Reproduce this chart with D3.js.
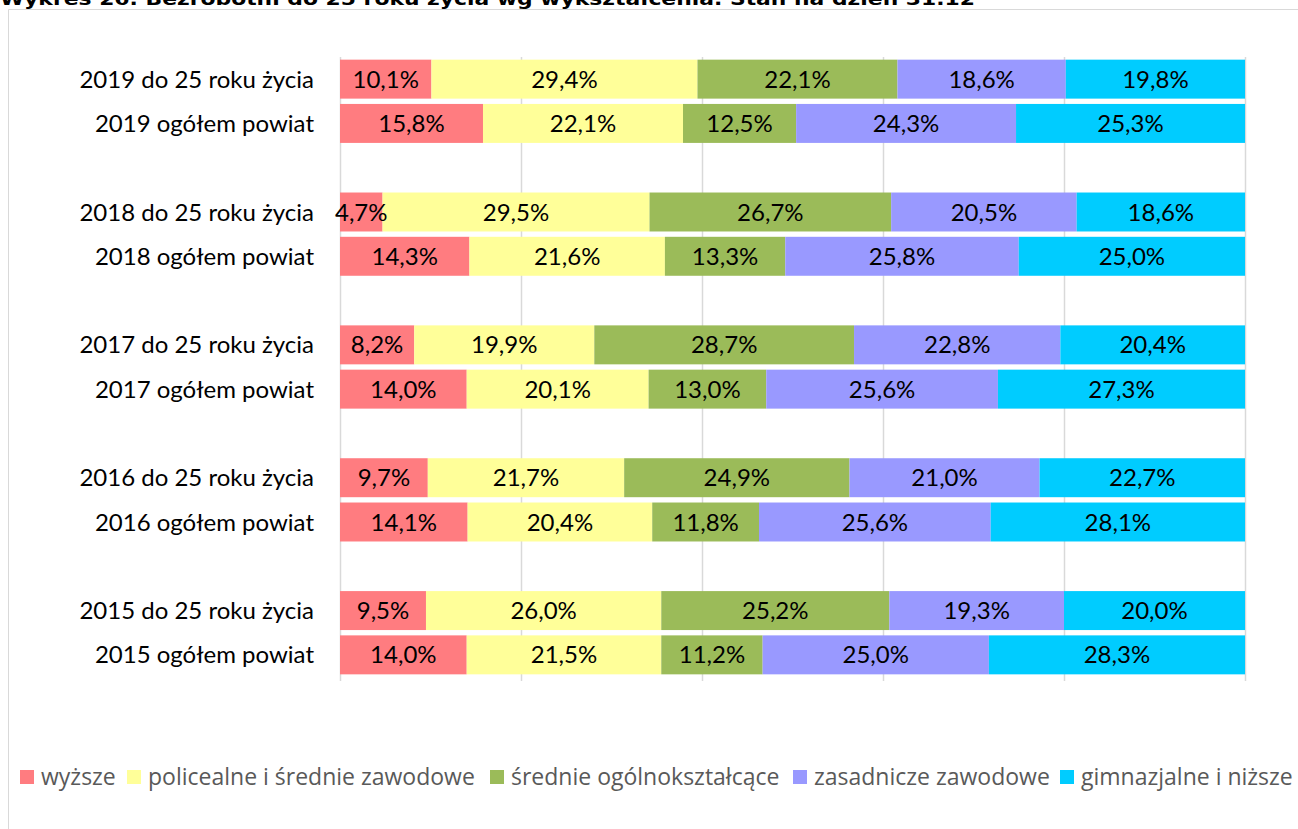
<!DOCTYPE html>
<html><head><meta charset="utf-8">
<script src="https://cdn.jsdelivr.net/npm/d3@7"></script>
<style>html,body{margin:0;padding:0;background:#fff;overflow:hidden}</style>
</head><body>
<svg id="c" width="1298" height="829"></svg>
<script>
const title = "Wykres 26. Bezrobotni do 25 roku życia wg wykształcenia. Stan na dzień 31.12";
const categories = ["2019 do 25 roku życia","2019 ogółem powiat","2018 do 25 roku życia","2018 ogółem powiat","2017 do 25 roku życia","2017 ogółem powiat","2016 do 25 roku życia","2016 ogółem powiat","2015 do 25 roku życia","2015 ogółem powiat"];
const seriesNames = ["wyższe","policealne i średnie zawodowe","średnie ogólnokształcące","zasadnicze zawodowe","gimnazjalne i niższe"];
const wyzsze =      [10.1,15.8,4.7,14.3,8.2,14.0,9.7,14.1,9.5,14.0];
const policealne =  [29.4,22.1,29.5,21.6,19.9,20.1,21.7,20.4,26.0,21.5];
const srednieOg =   [22.1,12.5,26.7,13.3,28.7,13.0,24.9,11.8,25.2,11.2];
const zasadnicze =  [18.6,24.3,20.5,25.8,22.8,25.6,21.0,25.6,19.3,25.0];
const gimnazjalne = [19.8,25.3,18.6,25.0,20.4,27.3,22.7,28.1,20.0,28.3];
const xTicks = [0,20,40,60,80,100];
const colors = ["#FF7C80","#FFFF99","#9BBB59","#9999FF","#00CCFF"];

const series = [wyzsze,policealne,srednieOg,zasadnicze,gimnazjalne];
const svg = d3.select("#c");

// frame
svg.append("path").attr("d","M8.5,900 V9.5 H1400").attr("fill","none").attr("stroke","#d9d9d9").attr("stroke-width",1);

// title
svg.append("text").attr("x",0).attr("y",5)
  .attr("font-family","DejaVu Sans").attr("font-weight","bold").attr("font-size",17)
  .attr("textLength",975).attr("lengthAdjust","spacingAndGlyphs")
  .attr("fill","#000").text(title);

const x = d3.scaleLinear().domain([0,100]).range([340,1245]);
const slot = i => Math.floor(i/2)*3 + (i%2);
const y = d3.scaleBand().domain(d3.range(14)).range([57,677]).paddingInner(0.12).paddingOuter(0.06);

// gridlines
svg.append("g").selectAll("line").data(xTicks).join("line")
  .attr("x1",d=>x(d)+0.5).attr("x2",d=>x(d)+0.5).attr("y1",57).attr("y2",681)
  .attr("stroke","#d9d9d9").attr("stroke-width",1.5);

// stacked data
const rows = categories.map((c,i)=>{
  let acc=0;
  return series.map((s,k)=>{const d={cat:i,k,v:s[i],x0:acc,x1:acc+s[i]};acc+=s[i];return d;});
});
const flat = rows.flat();

const g = svg.append("g");
g.selectAll("rect").data(flat).join("rect")
  .attr("x",d=>x(d.x0)).attr("width",d=>x(d.x1)-x(d.x0))
  .attr("y",d=>y(slot(d.cat))).attr("height",y.bandwidth())
  .attr("fill",d=>colors[d.k]);

g.selectAll("text").data(flat).join("text")
  .attr("x",d=>(x(d.x0)+x(d.x1))/2).attr("y",d=>y(slot(d.cat))+y.bandwidth()/2)
  .attr("dy","0.36em").attr("text-anchor","middle")
  .attr("font-family","Lato, 'Open Sans', sans-serif").attr("font-size",24).attr("fill","#000")
  .text(d=>d.v.toFixed(1).replace(".",",")+"%");

// category labels
svg.append("g").selectAll("text").data(categories).join("text")
  .attr("x",314).attr("y",(d,i)=>y(slot(i))+y.bandwidth()/2).attr("dy","0.36em")
  .attr("text-anchor","end").attr("font-family","Lato, 'Open Sans', sans-serif").attr("font-size",24).attr("fill","#000")
  .text(d=>d);

// legend
const legendX = [20,127,490,793,1060];
const lg = svg.append("g").selectAll("g").data(seriesNames).join("g")
  .attr("transform",(d,i)=>`translate(${legendX[i]},777)`);
lg.append("rect").attr("x",0).attr("y",-7).attr("width",14).attr("height",14).attr("fill",(d,i)=>colors[i]);
lg.append("text").attr("x",21).attr("y",0).attr("dy","0.35em")
  .attr("font-family","'Open Sans', sans-serif").attr("font-size",23).attr("fill","#595959").text(d=>d);
</script>
</body></html>
